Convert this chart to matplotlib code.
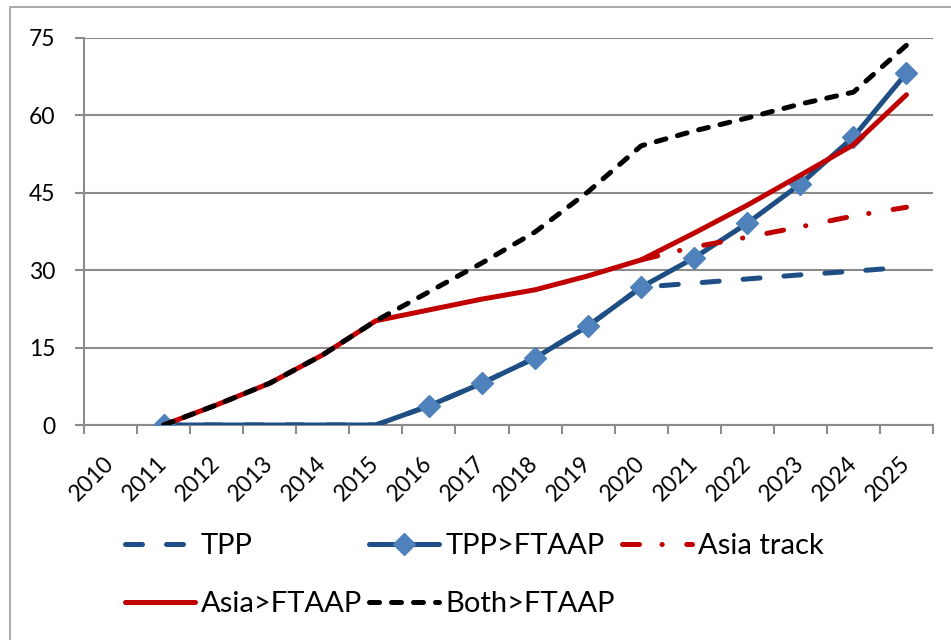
import numpy as np
import matplotlib
matplotlib.use("Agg")
import matplotlib.pyplot as plt
from matplotlib.patches import Rectangle

years = [str(y) for y in range(2010, 2026)]
nan = np.nan
tpp = [nan, 0, 0, 0, 0, 0, 3.7, 8.1, 13.0, 19.2, 26.7, 27.5, 28.3, 29.1, 29.8, 30.6]
tpp_ftaap = [nan, 0, 0, 0, 0, 0, 3.7, 8.1, 13.0, 19.2, 26.7, 32.4, 39.1, 46.7, 55.8, 68.2]
asia_track = [nan, nan, nan, nan, nan, nan, nan, nan, nan, nan, 32.0, 34.5, 36.4, 38.4, 40.5, 42.2]
asia_ftaap = [nan, 0, 3.9, 8.1, 13.6, 20.2, 22.3, 24.4, 26.2, 28.9, 32.0, 37.2, 42.6, 48.4, 54.3, 64.0]
both_ftaap = [nan, 0, 3.9, 8.1, 13.6, 20.2, 25.8, 31.4, 37.4, 45.2, 54.1, 57.0, 59.5, 62.2, 64.5, 73.6]
marker_idx = [1, 6, 7, 8, 9, 10, 11, 12, 13, 14, 15]
yticks = [0, 15, 30, 45, 60, 75]

plt.rcParams['font.family'] = ['Lato', 'DejaVu Sans']

fig = plt.figure(figsize=(9.51, 6.40), dpi=100)
ax = fig.add_axes([84/951, 1-425/640, (933-84)/951, (425-38)/640])

x = np.arange(len(years))
blue = '#1F4E84'
mblue = '#4F81BD'
red = '#C00000'
lw = 3.6

l1, = ax.plot(x, tpp, color=blue, lw=lw, linestyle=(0, (3.4, 4.8)),
              dash_capstyle='round', label='TPP', zorder=3)
l2, = ax.plot(x, tpp_ftaap, color=blue, lw=lw, marker='D', markersize=11,
              markerfacecolor=mblue, markeredgecolor=mblue, markevery=marker_idx,
              solid_capstyle='round', label='TPP>FTAAP', zorder=4)
l3, = ax.plot(x, asia_track, color=red, lw=lw, linestyle=(0, (3.4, 4.5, 0.05, 4.9)),
              dash_capstyle='round', label='Asia track', zorder=5)
l4, = ax.plot(x, asia_ftaap, color=red, lw=lw, solid_capstyle='round',
              label='Asia>FTAAP', zorder=6)
l5, = ax.plot(x, both_ftaap, color='black', lw=lw, linestyle=(0, (2.0, 2.4)),
              dash_capstyle='round', label='Both>FTAAP', zorder=7)

ax.set_xlim(-0.5, len(years) - 0.5)
ax.set_ylim(0, 75)
ax.set_yticks(yticks)
ax.yaxis.grid(True, color='#8C8C8C', lw=1.5)
ax.set_axisbelow(True)

ax.set_xticks(np.arange(-0.5, len(years), 1.0))
ax.set_xticklabels([])
ax.set_xticks(x, minor=True)
ax.set_xticklabels(years, minor=True, rotation=45, ha='right', va='center',
                   rotation_mode='anchor', fontsize=16.5)
ax.tick_params(axis='x', which='major', length=6.5, width=1.5, color='#8C8C8C')
ax.tick_params(axis='x', which='minor', length=0, pad=25)
ax.tick_params(axis='y', length=6.5, width=1.5, color='#8C8C8C', labelsize=16.5, pad=14)

for s in ['top', 'right']:
    ax.spines[s].set_visible(False)
for s in ['left', 'bottom']:
    ax.spines[s].set_color('#8C8C8C')
    ax.spines[s].set_linewidth(1.5)

leg = fig.legend(handles=[l1, l4, l2, l5, l3], loc='upper left',
                 bbox_to_anchor=(125/951, 1-533/640), ncol=3, frameon=False,
                 fontsize=21, handlelength=2.4, handletextpad=0.2,
                 columnspacing=0.25, labelspacing=1.1, borderpad=0, borderaxespad=0)

fig.add_artist(Rectangle((10/951, -0.1), 1.2, 1-7/640+0.1, transform=fig.transFigure,
                         fill=False, edgecolor='#9A9A9A', lw=1.2))

fig.savefig('out.png', dpi=100)
